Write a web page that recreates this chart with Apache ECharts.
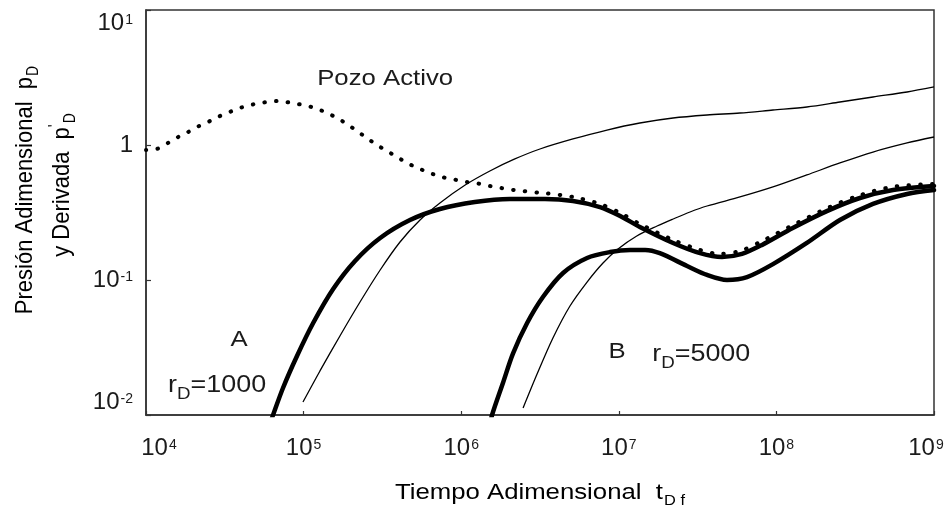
<!DOCTYPE html>
<html>
<head>
<meta charset="utf-8">
<title>Presión adimensional y derivada</title>
<script src="https://cdn.jsdelivr.net/npm/echarts@6/dist/echarts.min.js"></script>
<style>
  html, body { margin: 0; padding: 0; background: #ffffff; }
  #chart { width: 948px; height: 508px; }
</style>
</head>
<body>
<div id="chart"></div>
<script>
// ---- data (dimensionless time t_Df, dimensionless pressure / derivative) ----
const xTickExponents = [4, 5, 6, 7, 8, 9];
const yTickExponents = [-2, -1, 0, 1];
const yTickText = { '-2': '{b|10}{sup|-2}', '-1': '{b|10}{sup|-1}', '0': '{b|1}', '1': '{b|10}{sup|1}' };

// derivative of the active well (dotted)
const pozoActivo = [
  [1.0e4, 0.918], [1.17e4, 0.934], [1.38e4, 1.035], [1.60e4, 1.146], [1.85e4, 1.248],
  [2.17e4, 1.383], [2.55e4, 1.506], [2.95e4, 1.640], [3.52e4, 1.786], [4.12e4, 1.912],
  [4.92e4, 2.013], [5.86e4, 2.082], [6.98e4, 2.118], [8.44e4, 2.047], [9.91e4, 1.979],
  [1.18e5, 1.880], [1.41e5, 1.726], [1.63e5, 1.585], [1.88e5, 1.431], [2.18e5, 1.270],
  [2.52e5, 1.127], [2.92e5, 1.000], [3.38e5, 0.903], [3.92e5, 0.815], [4.53e5, 0.736],
  [5.32e5, 0.675], [6.34e5, 0.620], [7.56e5, 0.579], [8.87e5, 0.558], [1.06e6, 0.534],
  [1.26e6, 0.520], [1.48e6, 0.500], [1.76e6, 0.482], [2.10e6, 0.466], [2.47e6, 0.456],
  [3.03e6, 0.444], [3.50e6, 0.438], [5.12e6, 0.412], [7.60e6, 0.366], [1.02e7, 0.314],
  [1.36e7, 0.260], [2.21e7, 0.198], [3.28e7, 0.167], [4.39e7, 0.156], [5.87e7, 0.164],
  [7.87e7, 0.191], [1.27e8, 0.255], [2.09e8, 0.340], [3.39e8, 0.425], [5.49e8, 0.490],
  [1.0e9, 0.514]
];

// derivative, observation well A (r_D = 1000)
const derivadaA = [
  [6.1e4, 0.0085], [6.40e4, 0.0100], [7.40e4, 0.01585], [9.08e4, 0.02735], [1.15e5, 0.0480],
  [1.54e5, 0.0858], [2.12e5, 0.1384], [3.06e5, 0.2047], [4.73e5, 0.278], [7.33e5, 0.3357],
  [1.22e6, 0.378], [2.04e6, 0.398], [3.40e6, 0.398], [5.12e6, 0.3846], [7.60e6, 0.347],
  [1.02e7, 0.298], [1.36e7, 0.247], [2.21e7, 0.188], [3.28e7, 0.158], [4.52e7, 0.148],
  [6.05e7, 0.156], [8.11e7, 0.182], [1.27e8, 0.243], [2.09e8, 0.324], [3.39e8, 0.405],
  [5.49e8, 0.464], [1.0e9, 0.497]
];

// derivative, observation well B (r_D = 5000)
const derivadaB = [
  [1.52e6, 0.0083], [1.57e6, 0.0100], [1.84e6, 0.01726], [2.13e6, 0.0285], [2.62e6, 0.0480],
  [3.30e6, 0.0748], [4.43e6, 0.1127], [6.29e6, 0.1455], [8.79e6, 0.161], [1.18e7, 0.167],
  [1.47e7, 0.167], [1.82e7, 0.158], [2.71e7, 0.127], [3.63e7, 0.109], [4.86e7, 0.100],
  [6.51e7, 0.105], [9.51e7, 0.131], [1.56e8, 0.188], [2.53e8, 0.278], [4.10e8, 0.366],
  [6.75e8, 0.434], [1.0e9, 0.464]
];

// pressure, observation well A (r_D = 1000)
const presionA = [
  [9.91e4, 0.01248], [1.27e5, 0.0212], [1.70e5, 0.0385], [2.28e5, 0.0687], [3.06e5, 0.1186],
  [4.09e5, 0.1912], [5.48e5, 0.278], [7.33e5, 0.3718], [1.06e6, 0.5054], [1.52e6, 0.642],
  [2.19e6, 0.788], [3.16e6, 0.934], [5.12e6, 1.108], [8.41e6, 1.291], [1.36e7, 1.455],
  [2.21e7, 1.585], [3.63e7, 1.668], [5.87e7, 1.726], [9.51e7, 1.816], [1.56e8, 1.912],
  [2.53e8, 2.082], [4.10e8, 2.268], [6.75e8, 2.470], [1.0e9, 2.690]
];

// pressure, observation well B (r_D = 5000)
const presionB = [
  [2.47e6, 0.01127], [3.03e6, 0.0201], [3.82e6, 0.0372], [4.90e6, 0.0642], [6.29e6, 0.0966],
  [7.94e6, 0.1337], [9.89e6, 0.1697], [1.30e7, 0.2118], [1.75e7, 0.2512], [2.21e7, 0.283],
  [2.83e7, 0.319], [3.63e7, 0.3533], [5.87e7, 0.412], [9.51e7, 0.489], [1.56e8, 0.600],
  [2.53e8, 0.736], [4.10e8, 0.887], [6.75e8, 1.035], [1.0e9, 1.146]
];

// text annotations placed in data space
const notes = [
  { text: '{m|Pozo Activo}', at: [3.29e5, 3.08], align: 'center' },
  { text: '{m|A}', at: [3.89e4, 0.0359], align: 'center' },
  { text: '{r|r}{sub|D}{r|=1000}', at: [1.38e4, 0.0164], align: 'left' },
  { text: '{m|B}', at: [9.75e6, 0.0293], align: 'center' },
  { text: '{r|r}{sub|D}{r|=5000}', at: [1.63e7, 0.0281], align: 'left' }
];

// ---- styling ----
const FONT = '"Liberation Sans", Arial, Helvetica, sans-serif';
const INK = '#1b1b1b';
const TITLE_INK = '#24305c';
const WIDE = 1.17;   // horizontal stretch of the lettering

const tickRich = {
  b: { fontFamily: FONT, fontSize: 24, color: INK, lineHeight: 26 },
  sup: { fontFamily: FONT, fontSize: 14, color: INK, lineHeight: 14, verticalAlign: 'top', padding: [3, 0, 0, 1] },
  padL: { fontFamily: FONT, fontSize: 10, width: 26 },
  padR: { fontFamily: FONT, fontSize: 10, width: 16 }
};

function expOf(v) { return Math.round(Math.log10(v)); }

function xLabel(v) {
  const e = expOf(v);
  if (xTickExponents.indexOf(e) < 0) return '';
  let s = '{b|10}{sup|' + e + '}';
  if (e === xTickExponents[0]) s = '{padL| }' + s;
  if (e === xTickExponents[xTickExponents.length - 1]) s = s + '{padR| }';
  return s;
}

function yLabel(v) {
  const e = expOf(v);
  return yTickExponents.indexOf(e) < 0 ? '' : yTickText[String(e)];
}

const chart = echarts.init(document.getElementById('chart'), null, { renderer: 'canvas' });

function lineSeries(name, data, kind) {
  const s = {
    name: name,
    type: 'line',
    data: data,
    showSymbol: false,
    smooth: 0.3,
    clip: true,
    silent: true,
    animation: false,
    lineStyle: { color: '#000', width: 1.3 }
  };
  if (kind === 'thick') {
    s.lineStyle = { color: '#000', width: 4.5, cap: 'round', join: 'round' };
  } else if (kind === 'dots') {
    s.lineStyle = { color: '#000', width: 4, type: [0.5, 11.2], cap: 'round' };
    s.z = 5;
  }
  return s;
}

const option = {
  backgroundColor: '#ffffff',
  animation: false,
  grid: {
    left: 146, right: 14, top: 10, bottom: 93,
    outerBoundsMode: 'none', containLabel: false,
    show: true, borderColor: '#333', borderWidth: 1.5, backgroundColor: 'transparent'
  },
  xAxis: {
    type: 'log', logBase: 10, min: 1e4, max: 1e9,
    axisLine: { show: true, lineStyle: { color: '#333', width: 1.5 } },
    axisTick: { show: true, inside: true, length: 4, lineStyle: { color: '#333', width: 1.2 } },
    splitLine: { show: false },
    minorTick: { show: false },
    axisLabel: { margin: 20, formatter: xLabel, rich: tickRich, showMinLabel: true, showMaxLabel: true, hideOverlap: false }
  },
  yAxis: {
    type: 'log', logBase: 10, min: 0.01, max: 10,
    axisLine: { show: true, lineStyle: { color: '#333', width: 1.5 } },
    axisTick: { show: true, inside: true, length: 5, lineStyle: { color: '#333', width: 1.2 } },
    splitLine: { show: false },
    axisLabel: {
      margin: 13, formatter: yLabel, rich: tickRich, showMinLabel: true, showMaxLabel: true,
      verticalAlignMaxLabel: 'top', verticalAlignMinLabel: 'bottom', hideOverlap: false
    }
  },
  series: [
    lineSeries('p_D A', presionA, 'thin'),
    lineSeries('p_D B', presionB, 'thin'),
    lineSeries("p'_D A", derivadaA, 'thick'),
    lineSeries("p'_D B", derivadaB, 'thick'),
    lineSeries('Pozo Activo', pozoActivo, 'dots')
  ]
};

chart.setOption(option);

// annotations anchored in data space, plus the two axis titles
const annRich = {
  m: { fontFamily: FONT, fontSize: 22, color: INK, lineHeight: 26 },
  r: { fontFamily: FONT, fontSize: 23, color: INK, lineHeight: 26 },
  sub: { fontFamily: FONT, fontSize: 16, color: INK, lineHeight: 16, verticalAlign: 'top', padding: [14, 0, 0, 0] }
};
const titleRich = {
  t: { fontFamily: FONT, fontSize: 22, color: TITLE_INK, lineHeight: 26 },
  sub: { fontFamily: FONT, fontSize: 14, color: TITLE_INK, lineHeight: 14, verticalAlign: 'top', padding: [14, 0, 0, 1] },
  pr: { fontFamily: FONT, fontSize: 15, color: TITLE_INK, lineHeight: 15, verticalAlign: 'top' }
};

const graphics = notes.map(function (n) {
  const p = chart.convertToPixel({ gridIndex: 0 }, n.at);
  return {
    type: 'text', x: p[0], y: p[1], scaleX: WIDE, silent: true,
    style: { text: n.text, rich: annRich, align: n.align, verticalAlign: 'middle', fill: INK }
  };
});

const xMid = chart.convertToPixel({ xAxisIndex: 0 }, Math.sqrt(1e4 * 1e9));
graphics.push({
  type: 'text', x: xMid, y: 493, scaleX: WIDE, silent: true,
  style: { text: '{t|Tiempo Adimensional  t}{sub|D f}', rich: titleRich, align: 'center', verticalAlign: 'middle' }
});
graphics.push({
  type: 'text', x: 25, y: 190, rotation: Math.PI / 2, scaleY: 1.12, silent: true,
  style: { text: '{t|Presión Adimensional  p}{sub|D}', rich: titleRich, align: 'center', verticalAlign: 'middle' }
});
graphics.push({
  type: 'text', x: 62, y: 185, rotation: Math.PI / 2, scaleY: 1.12, silent: true,
  style: { text: "{t|y Derivada  p}{pr|'}{sub|D}", rich: titleRich, align: 'center', verticalAlign: 'middle' }
});

chart.setOption({ graphic: graphics });
</script>
</body>
</html>
